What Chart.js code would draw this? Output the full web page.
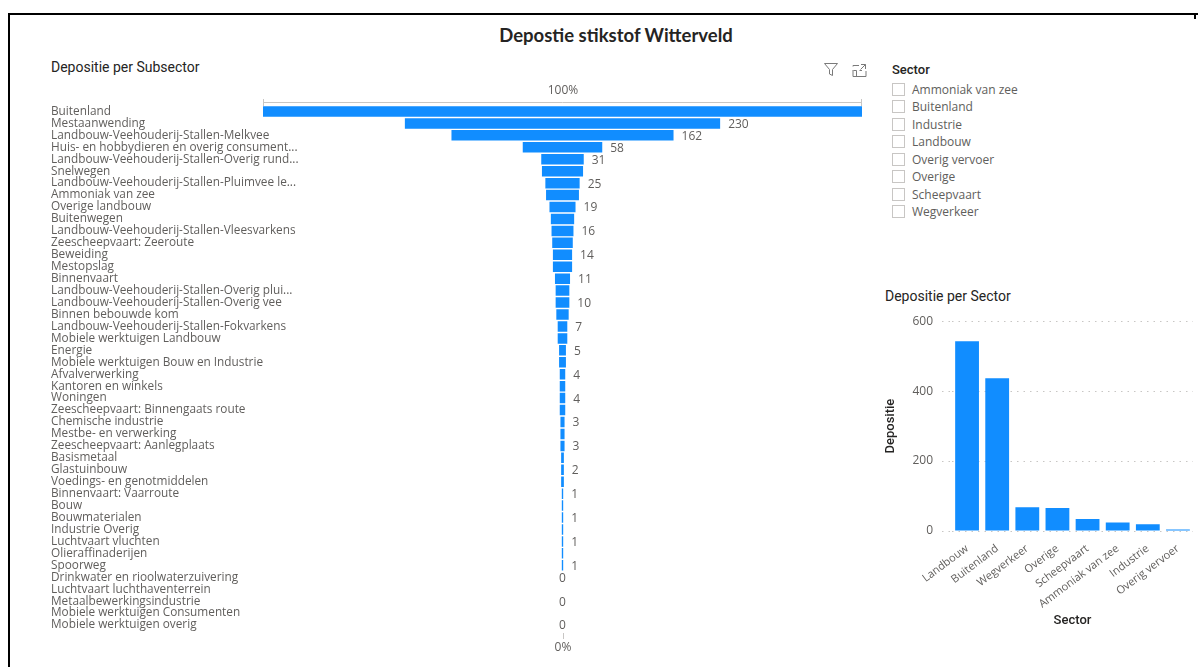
<!DOCTYPE html>
<html>
<head>
<meta charset="utf-8">
<title>Depostie stikstof Witterveld</title>
<script src="https://cdn.jsdelivr.net/npm/chart.js@4.4.1/dist/chart.umd.min.js"></script>
<style>
  html, body { margin: 0; padding: 0; background: #fff; }
  body { width: 1198px; height: 667px; position: relative; overflow: hidden; font-family: "Open Sans", sans-serif; }
  .frame { position: absolute; left: 8px; top: 13px; width: 1190px; height: 660px; border-top: 2px solid #000; border-left: 2px solid #000; }
  .frame-end { position: absolute; left: 1194px; top: 13px; width: 2px; height: 6px; background: #000; }
  .page-title { position: absolute; left: 416px; width: 400px; top: 24px; line-height: 22px; text-align: center; font: bold 18.5px Lato, sans-serif; color: #252423; }
  .visual-title { position: absolute; font: 14px Roboto, sans-serif; color: #252423; line-height: 16px; white-space: nowrap; }
  .icons { position: absolute; left: 823px; top: 62px; }
  .slicer-head { position: absolute; left: 892px; top: 62px; font: 500 13px Roboto, sans-serif; color: #252423; line-height: 16px; }
  .slicer-item { position: absolute; left: 892px; height: 16px; font: 12px "Open Sans", sans-serif; color: #605E5C; line-height: 16px; white-space: nowrap; }
  .slicer-item .box { position: absolute; left: 0; top: 1px; width: 11px; height: 11px; border: 1px solid #C8C6C4; background: #fff; }
  .slicer-item span { position: absolute; left: 20px; top: 0; }
  .chart-box { position: absolute; }
</style>
</head>
<body>
<div class="frame"></div>
<div class="frame-end"></div>
<div class="page-title">Depostie stikstof Witterveld</div>

<div class="visual-title" style="left:51px; top:59px;">Depositie per Subsector</div>
<svg class="icons" width="46" height="16" viewBox="0 0 46 16">
  <path d="M1.5 1.5 H14.5 L9.5 7.5 V13.5 L6.5 12 V7.5 Z" fill="none" stroke="#7A7A7A" stroke-width="1"/>
  <path d="M30 4.5 V3.5 H36 M43 9 V14.5 H30 V8 M36.5 8.5 H39 M30.5 8.5 H33.5 V14 M38 2.5 H42.5 V7 M42.5 2.5 L37.5 7.5" fill="none" stroke="#7A7A7A" stroke-width="1"/>
</svg>
<div class="chart-box" style="left:45px; top:80px; width:835px; height:580px;"><canvas id="funnel"></canvas></div>

<div class="slicer-head">Sector</div>
<div id="slicer"></div>

<div class="visual-title" style="left:885px; top:288px;">Depositie per Sector</div>
<div class="chart-box" style="left:880px; top:305px; width:318px; height:330px;"><canvas id="sectorChart"></canvas></div>

<script>
// deposition per subsector, ordered as in the funnel
var subsectors = [
  'Buitenland', 'Mestaanwending', 'Landbouw-Veehouderij-Stallen-Melkvee',
  'Huis- en hobbydieren en overig consument...', 'Landbouw-Veehouderij-Stallen-Overig rund...',
  'Snelwegen', 'Landbouw-Veehouderij-Stallen-Pluimvee le...', 'Ammoniak van zee',
  'Overige landbouw', 'Buitenwegen', 'Landbouw-Veehouderij-Stallen-Vleesvarkens',
  'Zeescheepvaart: Zeeroute', 'Beweiding', 'Mestopslag', 'Binnenvaart',
  'Landbouw-Veehouderij-Stallen-Overig plui...', 'Landbouw-Veehouderij-Stallen-Overig vee',
  'Binnen bebouwde kom', 'Landbouw-Veehouderij-Stallen-Fokvarkens', 'Mobiele werktuigen Landbouw',
  'Energie', 'Mobiele werktuigen Bouw en Industrie', 'Afvalverwerking', 'Kantoren en winkels',
  'Woningen', 'Zeescheepvaart: Binnengaats route', 'Chemische industrie', 'Mestbe- en verwerking',
  'Zeescheepvaart: Aanlegplaats', 'Basismetaal', 'Glastuinbouw', 'Voedings- en genotmiddelen',
  'Binnenvaart: Vaarroute', 'Bouw', 'Bouwmaterialen', 'Industrie Overig', 'Luchtvaart vluchten',
  'Olieraffinaderijen', 'Spoorweg', 'Drinkwater en rioolwaterzuivering', 'Luchtvaart luchthaventerrein',
  'Metaalbewerkingsindustrie', 'Mobiele werktuigen Consumenten', 'Mobiele werktuigen overig'
];
var subsectorValues = [
  437, 230, 162, 58, 31, 30, 25, 24, 19, 17, 16, 15, 14, 14, 11, 10, 10, 9, 7, 7, 5, 5,
  4, 4, 4, 4, 3, 3, 3, 2, 2, 2, 1, 1, 1, 1, 1, 1, 1, 0, 0, 0, 0, 0
];
var funnelEnds = ['100%', '0%'];

// deposition per sector
var sectors = ['Landbouw', 'Buitenland', 'Wegverkeer', 'Overige', 'Scheepvaart', 'Ammoniak van zee', 'Industrie', 'Overig vervoer'];
var sectorValues = [543, 437, 68, 66, 34, 24, 19, 4];
var sectorTicks = [0, 200, 400, 600];

var blue = '#118DFF';
var grey = '#605E5C';

// slicer list (alphabetical)
var slicer = document.getElementById('slicer');
sectors.slice().sort().forEach(function (name, i) {
  var item = document.createElement('div');
  item.className = 'slicer-item';
  item.style.top = (81.5 + i * 17.5) + 'px';
  item.innerHTML = '<div class="box"></div><span>' + name + '</span>';
  slicer.appendChild(item);
});

var maxVal = Math.max.apply(null, subsectorValues);

// category names in the left column, free to run under the bars
var funnelNames = {
  id: 'funnelNames',
  afterDraw: function (chart) {
    var ctx = chart.ctx, meta = chart.getDatasetMeta(0);
    ctx.save();
    ctx.font = '11.8px "Open Sans"';
    ctx.fillStyle = grey;
    ctx.textAlign = 'left';
    ctx.textBaseline = 'middle';
    meta.data.forEach(function (bar, i) {
      ctx.fillText(subsectors[i], 6, bar.y);
    });
    ctx.restore();
  }
};

// value labels right of each bar, skipped when they would collide
var funnelLabels = {
  id: 'funnelLabels',
  afterDatasetsDraw: function (chart) {
    var ctx = chart.ctx, meta = chart.getDatasetMeta(0), x = chart.scales.x;
    var placed = [];
    ctx.save();
    ctx.font = '12px "Open Sans"';
    ctx.fillStyle = grey;
    ctx.textBaseline = 'middle';
    meta.data.forEach(function (bar, i) {
      var v = subsectorValues[i];
      var text = String(v);
      var w = ctx.measureText(text).width;
      var left = v === 0 ? x.getPixelForValue(0) - w / 2 : x.getPixelForValue(v / 2) + 8;
      var box = { l: left, r: left + w, t: bar.y - 8, b: bar.y + 8 };
      if (box.r > chart.width) return;
      var hit = placed.some(function (p) {
        return p.l < box.r && box.l < p.r && p.t < box.b && box.t < p.b;
      });
      if (hit) return;
      placed.push(box);
      ctx.fillText(text, left, bar.y + 1);
    });
    ctx.restore();
  }
};

// 100% guide on top, 0% tick below
var funnelGuides = {
  id: 'funnelGuides',
  afterDraw: function (chart) {
    var ctx = chart.ctx, area = chart.chartArea, x = chart.scales.x;
    var l = Math.round(x.getPixelForValue(x.min)), r = Math.round(x.getPixelForValue(x.max));
    var c = Math.round(x.getPixelForValue(0));
    var yTop = Math.round(area.top) - 4;
    ctx.save();
    ctx.strokeStyle = '#C8C6C4';
    ctx.lineWidth = 1;
    ctx.beginPath();
    ctx.moveTo(l, yTop + 0.5); ctx.lineTo(r, yTop + 0.5);
    ctx.moveTo(l + 0.5, yTop - 3); ctx.lineTo(l + 0.5, yTop + 4);
    ctx.moveTo(r - 0.5, yTop - 3); ctx.lineTo(r - 0.5, yTop + 4);
    ctx.moveTo(c + 0.5, area.bottom + 2); ctx.lineTo(c + 0.5, area.bottom + 8);
    ctx.stroke();
    ctx.fillStyle = grey;
    ctx.font = '12px "Open Sans"';
    ctx.textAlign = 'center';
    ctx.textBaseline = 'middle';
    ctx.fillText(funnelEnds[0], c, yTop - 11);
    ctx.fillText(funnelEnds[1], c, area.bottom + 17);
    ctx.restore();
  }
};

new Chart(document.getElementById('funnel'), {
  type: 'bar',
  data: {
    labels: subsectors,
    datasets: [{
      data: subsectorValues.map(function (v) { return [-v / 2, v / 2]; }),
      backgroundColor: blue,
      borderWidth: 0,
      barPercentage: 0.88,
      categoryPercentage: 1
    }]
  },
  options: {
    indexAxis: 'y',
    animation: false,
    responsive: true,
    maintainAspectRatio: false,
    layout: { padding: { top: 25.5, bottom: 29, left: 218, right: 18 } },
    plugins: { legend: { display: false }, tooltip: { enabled: false } },
    scales: {
      x: { display: false, min: -maxVal / 2, max: maxVal / 2 },
      y: { display: false }
    }
  },
  plugins: [funnelLabels, funnelGuides, funnelNames]
});

new Chart(document.getElementById('sectorChart'), {
  type: 'bar',
  data: {
    labels: sectors,
    datasets: [{
      data: sectorValues,
      backgroundColor: blue,
      borderWidth: 0,
      barPercentage: 0.79,
      categoryPercentage: 1
    }]
  },
  options: {
    animation: false,
    responsive: true,
    maintainAspectRatio: false,
    layout: { padding: { top: 14, right: 5, left: 0, bottom: 0 } },
    plugins: { legend: { display: false }, tooltip: { enabled: false } },
    scales: {
      x: {
        afterFit: function (scale) { scale.height = 104; },
        grid: { display: false },
        border: { display: false },
        ticks: {
          autoSkip: false,
          minRotation: 37,
          maxRotation: 37,
          padding: 3,
          color: grey,
          font: { family: 'Open Sans', size: 11 }
        },
        title: {
          display: true,
          text: 'Sector',
          color: '#252423',
          font: { family: 'Roboto', size: 13, weight: '500' },
          padding: { top: 4, bottom: 6 }
        }
      },
      y: {
        min: sectorTicks[0],
        max: sectorTicks[sectorTicks.length - 1],
        afterFit: function (scale) { scale.width = 72; },
        afterBuildTicks: function (scale) {
          scale.ticks = sectorTicks.map(function (v) { return { value: v }; });
        },
        grid: {
          color: '#C8C6C4',
          lineWidth: 1,
          tickLength: 10,
          borderDash: [1.5, 5],
          tickBorderDash: [1.5, 5]
        },
        border: { display: false, dash: [1.5, 5] },
        ticks: {
          padding: 9,
          color: grey,
          font: { family: 'Open Sans', size: 12 }
        },
        title: {
          display: true,
          text: 'Depositie',
          color: '#252423',
          font: { family: 'Roboto', size: 13, weight: '500' },
          padding: { top: 3, bottom: 4 }
        }
      }
    }
  }
});
</script>
</body>
</html>
